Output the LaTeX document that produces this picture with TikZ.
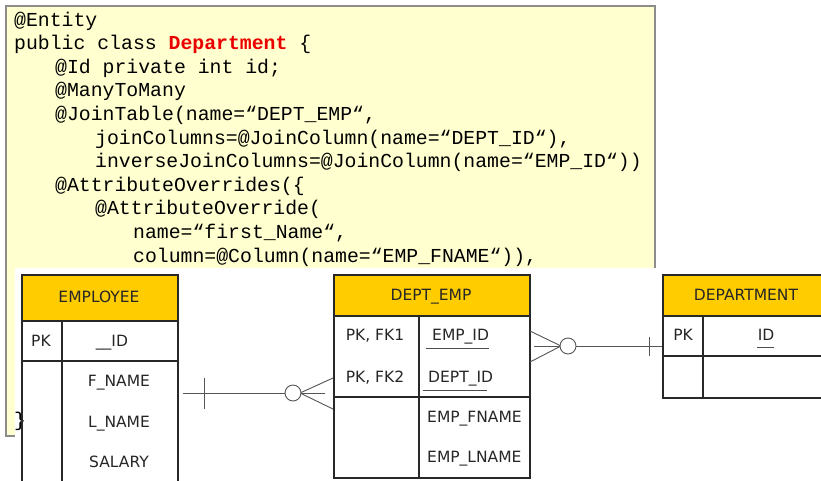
\documentclass[tikz,border=0pt]{standalone}
\usepackage{fontspec}
\newfontfamily\codefont{Liberation Mono}
\newfontfamily\tabfont{DejaVu Sans}
\definecolor{codebg}{RGB}{255,255,208}
\definecolor{codeborder}{RGB}{140,140,140}
\definecolor{hdr}{RGB}{255,204,0}
\definecolor{tline}{RGB}{40,40,40}
\definecolor{cline}{RGB}{85,85,85}
\definecolor{kwred}{RGB}{235,0,0}
\begin{document}
\begin{tikzpicture}[x=1pt,y=-1pt,
  codeline/.style={anchor=base west, inner sep=0pt, text=black, font=\codefont\fontsize{19.8}{20}\selectfont},
  tabtext/.style={inner sep=0pt, anchor=base, text=black!85, font=\tabfont\fontsize{15.5}{16}\selectfont},
  tabtextw/.style={tabtext, anchor=base west},
  tabbox/.style={draw=tline, line width=1.5pt, anchor=north west, inner sep=0pt, minimum width=#1},
  hdrbox/.style={tabbox=#1, fill=hdr},
  tabline/.style={draw=tline, line width=1.5pt},
  uline/.style={draw=black!70, line width=0.8pt},
  conn/.style={draw=cline, line width=0.9pt},
  crowcircle/.style={circle, draw=cline, line width=0.9pt, fill=white, minimum size=16pt, inner sep=0pt}]
\useasboundingbox (0,0) rectangle (821,480);
\fill[white] (0,0) rectangle (821,480);
% code box
\draw[codeborder, fill=codebg, line width=1.2pt] (6,6) rectangle (655,436);
\node[codeline] (l0) at (14,26) {@Entity};
\node[codeline] (l1) at (14,49.6) {public class {\bfseries\color{kwred}Department} \{};
\node[codeline] (l2) at (55,73.2) {@Id private int id;};
\node[codeline] (l3) at (55,96.8) {@ManyToMany};
\node[codeline] (l4) at (55,120.4) {@JoinTable(name=“DEPT\_EMP“,};
\node[codeline] (l5) at (95,144) {joinColumns=@JoinColumn(name=“DEPT\_ID“),};
\node[codeline] (l6) at (95,167.6) {inverseJoinColumns=@JoinColumn(name=“EMP\_ID“))};
\node[codeline] (l7) at (55,191.2) {@AttributeOverrides(\{};
\node[codeline] (l8) at (95,214.8) {@AttributeOverride(};
\node[codeline] (l9) at (133,238.4) {name=“first\_Name“,};
\node[codeline] (l10) at (133,262) {column=@Column(name=“EMP\_FNAME“)),};
% white panel over the code
\fill[white] (15,267.5) rectangle (821,480);
\node[codeline] (l17) at (14,426) {\}};
% EMPLOYEE table
\node[tabbox=156pt, minimum height=212pt] (emp) at (21,274) {};
\node[hdrbox=156pt, minimum height=46pt] (emph) at (21,274) {};
\draw[tabline] (21,361) -- (177,361);
\draw[tabline] (62,320) -- (62,486);
\node[tabtext] (empt) at (99,302.6) {EMPLOYEE};
\node[tabtext] (emppk) at (41,346.6) {PK};
\node[tabtext] (empid) at (112,346.6) {\_\_ID};
\node[tabtext] (empf) at (119,386.6) {F\_NAME};
\node[tabtext] (empl) at (119,427.6) {L\_NAME};
\node[tabtext] (emps) at (119,467.6) {SALARY};
% DEPT_EMP table
\node[tabbox=196pt, minimum height=203pt] (demp) at (333,274) {};
\node[hdrbox=196pt, minimum height=41pt] (demph) at (333,274) {};
\draw[tabline] (333,397) -- (529,397);
\draw[tabline] (419,315) -- (419,477);
\node[tabtext] (dempt) at (431,300.6) {DEPT\_EMP};
\node[tabtext] (dpk1) at (375,340.6) {PK, FK1};
\node[tabtext] (dpk2) at (375,382.6) {PK, FK2};
\node[tabtextw] (dempid) at (432,340.6) {EMP\_ID};
\node[tabtextw] (ddeptid) at (428,382.6) {DEPT\_ID};
\node[tabtextw] (dfn) at (427,422.6) {EMP\_FNAME};
\node[tabtextw] (dln) at (427,462.6) {EMP\_LNAME};
\draw[uline] (426,348) -- (489,348);
\draw[uline] (423,390) -- (487,390);
% DEPARTMENT table
\node[tabbox=170pt, minimum height=123pt] (dept) at (662,274) {};
\node[hdrbox=170pt, minimum height=41pt] (depth) at (662,274) {};
\draw[tabline] (662,356) -- (832,356);
\draw[tabline] (703,315) -- (703,397);
\node[tabtext] (deptt) at (746,300.6) {DEPARTMENT};
\node[tabtext] (deptpk) at (683,340.6) {PK};
\node[tabtext] (deptid) at (766,340.6) {ID};
\draw[uline] (757,347) -- (774,347);
% connector EMPLOYEE - DEPT_EMP
\coordinate (a1) at (183,393);
\coordinate (a2) at (325,393);
\coordinate (b1t) at (204,378);
\coordinate (b1b) at (204,409);
\coordinate (f1) at (300,393);
\coordinate (f1t) at (333,378);
\coordinate (f1b) at (333,409);
\draw[conn] (a1) -- (a2);
\draw[conn] (b1t) -- (b1b);
\draw[conn] (f1) -- (f1t);
\draw[conn] (f1) -- (f1b);
\node[crowcircle] (o1) at (293,393) {};
% connector DEPT_EMP - DEPARTMENT
\coordinate (a3) at (534,346);
\coordinate (a4) at (662,346);
\coordinate (b2t) at (649,337);
\coordinate (b2b) at (649,356);
\coordinate (f2) at (561,346);
\coordinate (f2t) at (530,331);
\coordinate (f2b) at (530,362);
\draw[conn] (a3) -- (a4);
\draw[conn] (b2t) -- (b2b);
\draw[conn] (f2) -- (f2t);
\draw[conn] (f2) -- (f2b);
\node[crowcircle] (o2) at (568,346) {};
\end{tikzpicture}
\end{document}
